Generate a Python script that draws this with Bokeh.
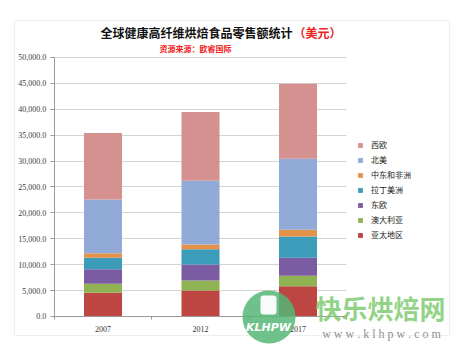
from bokeh.plotting import figure
from bokeh.models import (ColumnDataSource, Range1d, Legend, LegendItem, FixedTicker,
                          NumeralTickFormatter, Label, BoxAnnotation)
from bokeh.embed import file_html
from bokeh.resources import INLINE

# ---- data (USD) ----
years = ["2007", "2012", "2017"]
year_pos = [1, 2, 3]
asia_pacific = [4580, 5020, 5850]        # 亚太地区
australasia = [1730, 1930, 2000]         # 澳大利亚
eastern_europe = [2830, 3090, 3480]      # 东欧
latin_america = [2190, 2960, 4110]       # 拉丁美洲
middle_east_africa = [890, 900, 1300]    # 中东和非洲
north_america = [10380, 12290, 13700]    # 北美
western_europe = [12800, 13310, 14510]   # 西欧

series_keys = ["ap", "au", "ee", "la", "mea", "na", "we"]
series_names = ["亚太地区", "澳大利亚", "东欧", "拉丁美洲", "中东和非洲", "北美", "西欧"]
colors = ["#BD4542", "#8FB352", "#7B5CA2", "#3B9DBA", "#E4924A", "#91AAD7", "#D4918F"]
y_ticks = [0, 5000, 10000, 15000, 20000, 25000, 30000, 35000, 40000, 45000, 50000]

title_main = "全球健康高纤维烘焙食品零售额统计"
title_unit = "（美元）"
subtitle = "资源来源：欧睿国际"

source = ColumnDataSource(data=dict(
    x=year_pos, ap=asia_pacific, au=australasia, ee=eastern_europe,
    la=latin_america, mea=middle_east_africa, na=north_america, we=western_europe))

CJK = "Noto Sans CJK SC"
SERIF = "Liberation Serif"

W, H = 458, 352
# frame covers the whole canvas; ranges chosen so the plot area sits where the reference has it
p = figure(width=W, height=H, x_range=Range1d(-0.0513, 4.646),
           y_range=Range1d(-6950, 61000), output_backend="svg", toolbar_location=None,
           min_border_left=0, min_border_right=0, min_border_top=0, min_border_bottom=0)
p.title.visible = False
p.outline_line_color = None
p.background_fill_color = "white"
p.border_fill_color = "white"

renderers = p.vbar_stack(series_keys, x="x", width=0.39, color=colors,
                         line_color=None, source=source)

# axes (fixed inside the frame)
p.yaxis.fixed_location = 0.5
p.yaxis.bounds = (0, 50000)
p.yaxis.ticker = FixedTicker(ticks=y_ticks)
p.yaxis.formatter = NumeralTickFormatter(format="0,0.0")
p.yaxis.axis_line_color = "#9a9a9a"
p.yaxis.major_tick_line_color = "#9a9a9a"
p.yaxis.major_tick_out = 4
p.yaxis.major_tick_in = 0
p.yaxis.minor_tick_line_color = None
p.yaxis.major_label_standoff = 4
p.yaxis.major_label_text_font = SERIF
p.yaxis.major_label_text_font_size = "8px"
p.yaxis.major_label_text_color = "#3c3c3c"

p.xaxis.fixed_location = 0
p.xaxis.bounds = (0.5, 3.5)
p.xaxis.ticker = FixedTicker(ticks=year_pos, minor_ticks=[0.5, 1.5, 2.5, 3.5])
p.xaxis.major_label_overrides = {pos: y for pos, y in zip(year_pos, years)}
p.xaxis.axis_line_color = "#9a9a9a"
p.xaxis.major_tick_line_color = None
p.xaxis.minor_tick_line_color = "#9a9a9a"
p.xaxis.minor_tick_out = 3
p.xaxis.minor_tick_in = 0
p.xaxis.major_label_standoff = 4
p.xaxis.major_label_text_font = SERIF
p.xaxis.major_label_text_font_size = "8px"
p.xaxis.major_label_text_color = "#333333"

p.xgrid.grid_line_color = None
p.ygrid.grid_line_color = "#d4d4d4"
p.ygrid.bounds = (0, 50000)
p.ygrid.cross_bounds = (0.5, 3.5)

# legend (top item = 西欧)
items = [LegendItem(label=n, renderers=[r]) for n, r in zip(series_names, renderers)][::-1]
legend = Legend(items=items, location=(357, 112), glyph_width=6, glyph_height=6,
                label_text_font_size="8px", label_text_font=CJK, label_height=10,
                label_text_color="#222222", spacing=4, padding=0, margin=0,
                border_line_color=None, background_fill_alpha=0, label_standoff=8)
p.add_layout(legend)

def screen_box(l, r, t, b, **kw):
    return BoxAnnotation(left=l, right=r, top=t, bottom=b,
                         left_units="screen", right_units="screen",
                         top_units="screen", bottom_units="screen", **kw)

# outer frame
p.add_layout(screen_box(14, 449, H - 20, H - 335, fill_alpha=0,
                        line_color="#c8c8c8", line_width=1))

# titles
p.add_layout(Label(x=100, y=H - 32, x_units="screen", y_units="screen", text=title_main,
                   text_font=CJK, text_font_style="bold", text_font_size="12px",
                   text_color="#111111", text_baseline="middle", text_align="left"))
p.add_layout(Label(x=293, y=H - 32, x_units="screen", y_units="screen", text=title_unit,
                   text_font=CJK, text_font_style="bold", text_font_size="12px",
                   text_color="#ee2222", text_baseline="middle", text_align="left"))
p.add_layout(Label(x=159, y=H - 48, x_units="screen", y_units="screen", text=subtitle,
                   text_font=CJK, text_font_style="bold", text_font_size="8px",
                   text_color="#ee2222", text_baseline="middle", text_align="left"))

# watermark
p.add_layout(screen_box(242, 295, H - 290, H - 343, fill_color="#55B676", fill_alpha=0.85,
                        line_color=None, border_radius=27))
p.add_layout(screen_box(260, 276, H - 295, H - 314, fill_color="white", fill_alpha=0.95,
                        line_color=None, border_radius=3))
p.add_layout(Label(x=268, y=H - 327, x_units="screen", y_units="screen", text="KLHPW",
                   text_font="DejaVu Sans", text_font_style="bold italic", text_font_size="11px",
                   text_color="white", text_baseline="middle", text_align="center"))
p.add_layout(Label(x=380, y=H - 307, x_units="screen", y_units="screen", text="快乐烘焙网",
                   text_font=CJK, text_font_style="bold", text_font_size="26px",
                   text_color="#7FCB72", text_alpha=0.85,
                   text_baseline="middle", text_align="center"))
p.add_layout(Label(x=381, y=H - 333, x_units="screen", y_units="screen",
                   text="w w w . k l h p w . c o m",
                   text_font=SERIF, text_font_size="12px", text_color="#909090",
                   text_baseline="middle", text_align="center"))

open("out.html", "w").write(file_html(p, INLINE))
